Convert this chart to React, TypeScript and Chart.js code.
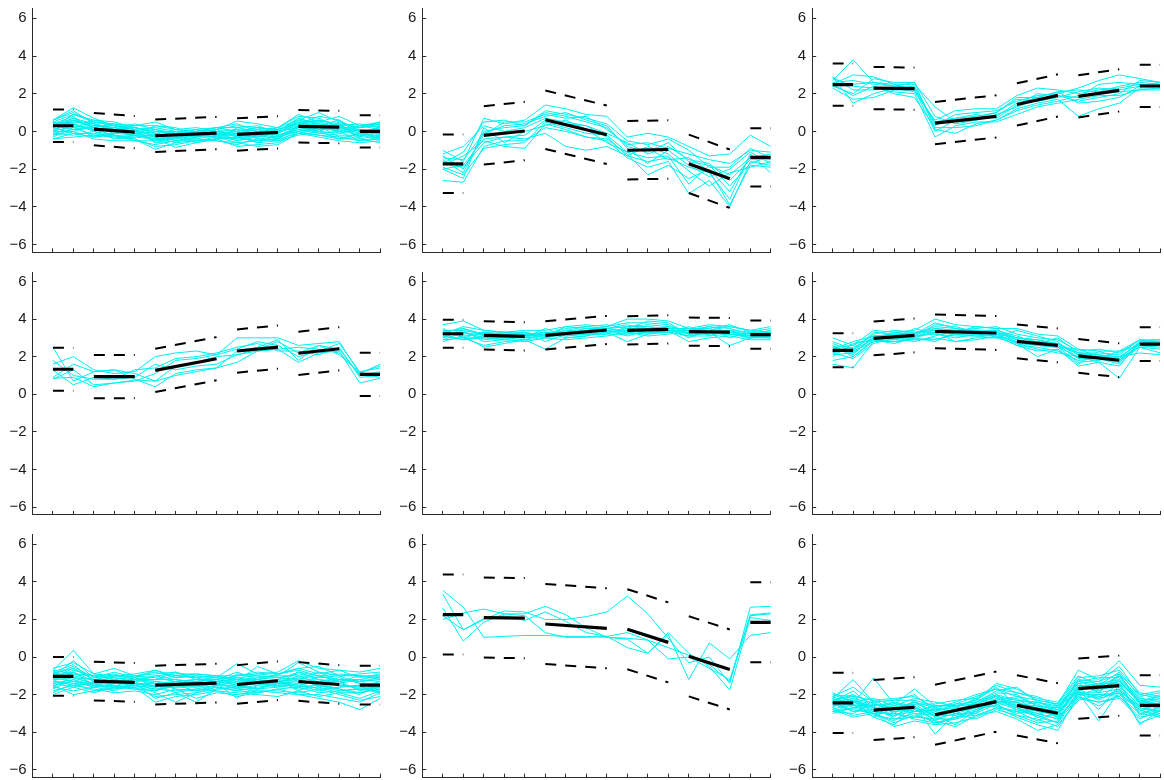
import React, { useEffect, useRef } from 'react';
import { Chart, registerables } from 'chart.js';

Chart.register(...registerables);

// ---------- shared axes ----------
const xTicks = [1, 2, 3, 4, 5, 6, 7, 8, 9, 10, 11, 12, 13, 14, 15, 16, 17];
const yTicks = [-6, -4, -2, 0, 2, 4, 6];
const groupStarts = [1, 3, 6, 10, 13, 16];
const groupEnds = [2, 5, 9, 12, 15, 17];

// ---------- panel 1 ----------
const p1Mean = [0.3, 0.3, 0.12, -0.04, -0.23, -0.09, -0.16, -0.05, 0.27, 0.23, 0.0, 0.0];
const p1Band = 0.86;
const p1Lines = [
  [0.6, 1.25, 0.7, 0.3, 0.2, -0.1, 0.0, 0.1, 0.2, 0.0, 0.2, 0.1, 0.5, 0.6, 0.4, 0.2, 0.3],
  [0.5, 0.9, 0.5, 0.4, 0.3, 0.5, 0.1, 0.0, 0.1, 0.55, 0.4, 0.2, 0.9, 0.5, 0.8, 0.3, 0.5],
  [0.2, 0.6, 0.3, 0.1, -0.1, -0.3, -0.2, -0.3, -0.1, -0.2, -0.3, 0.0, 0.3, 0.1, 0.2, -0.1, 0.1],
  [-0.4, -0.3, -0.2, -0.3, -0.4, -0.95, -0.6, -0.5, -0.4, -0.8, -0.7, -0.6, -0.1, -0.3, -0.5, -0.6, -0.5],
  [0.0, 0.3, 0.1, 0.0, 0.0, -0.5, -0.4, -0.2, -0.3, -0.4, -0.2, -0.3, 0.0, 0.2, 0.1, -0.2, -0.1],
  [0.4, 0.5, 0.4, 0.2, 0.0, -0.1, -0.3, -0.2, 0.0, 0.1, 0.0, -0.1, 0.6, 1.0, 0.5, 0.2, 0.4],
  [0.3, 0.1, 0.2, -0.1, -0.2, -0.4, -0.85, -0.6, -0.4, -0.3, -0.5, -0.4, 0.2, 0.0, 0.3, 0.0, -0.3],
  [-0.2, 0.0, -0.4, -0.5, -0.5, -0.7, -0.5, -0.4, -0.5, -0.6, -0.8, -0.7, -0.1, -0.2, -0.4, -0.4, -0.6],
  [0.5, 0.2, 0.6, 0.3, 0.1, 0.2, 0.0, -0.1, 0.1, 0.3, 0.2, 0.1, 0.4, 0.6, 0.3, 0.4, 0.2],
  [0.1, 0.4, 0.0, -0.2, -0.3, -0.2, -0.1, 0.1, -0.2, -0.1, 0.1, -0.2, 0.2, 0.4, -0.1, 0.1, 0.0],
  [0.35, 0.7, 0.4, 0.1, 0.2, 0.0, -0.2, -0.3, -0.1, -0.5, -0.3, 0.0, 0.7, 0.3, 0.6, -0.2, 0.2],
  [-0.1, 0.1, 0.2, 0.0, -0.2, -0.4, -0.3, -0.1, -0.2, 0.0, -0.4, -0.3, 0.1, -0.1, 0.0, 0.1, -0.2],
  [0.2, -0.1, -0.1, -0.3, -0.2, 0.3, 0.2, -0.2, 0.0, -0.3, 0.0, 0.1, 0.5, 0.3, -0.3, -0.3, 0.3],
  [0.6, 1.0, 0.5, 0.3, 0.1, -0.6, -0.3, 0.0, 0.2, 0.2, 0.3, -0.1, 0.4, 0.0, 0.5, 0.0, 0.1],
  [0.0, 0.6, 0.3, 0.2, 0.4, 0.1, -0.1, -0.3, 0.0, -0.2, -0.1, 0.2, 0.8, 0.7, 0.2, 0.2, 0.4],
  [0.4, 0.8, 0.0, 0.2, -0.1, -0.3, 0.0, -0.1, -0.3, 0.1, -0.2, -0.4, -0.1, 0.2, 0.0, -0.5, -0.4],
  [0.1, 0.5, 0.5, 0.3, 0.0, -0.2, -0.4, -0.2, -0.1, -0.4, -0.1, 0.0, 0.2, 0.5, 0.1, 0.3, 0.1],
  [-0.3, 0.2, -0.2, -0.1, 0.1, -0.6, -0.5, -0.5, -0.3, -0.6, -0.5, -0.4, 0.3, -0.1, -0.2, -0.2, -0.4],
  [0.45, 0.4, 0.1, 0.1, 0.3, 0.3, 0.1, 0.2, 0.0, -0.1, 0.1, 0.2, 0.6, 0.4, 0.0, 0.3, 0.4],
  [0.2, 0.9, 0.6, 0.5, 0.2, -0.1, -0.3, -0.4, -0.2, -0.2, -0.6, -0.5, 0.0, 0.3, 0.4, -0.3, 0.0],
  [-0.1, -0.2, 0.0, -0.4, -0.3, -0.4, -0.2, 0.0, -0.4, 0.2, 0.0, -0.2, 0.1, 0.0, -0.4, -0.1, -0.3],
  [0.3, 0.6, 0.2, 0.0, 0.0, -0.2, -0.5, -0.3, 0.1, -0.3, -0.1, 0.1, 0.4, 0.8, 0.6, 0.0, 0.2],
  [0.6, 1.1, 0.4, 0.1, -0.1, -0.5, -0.2, 0.0, -0.1, 0.0, 0.2, 0.0, 0.2, 0.1, 0.3, -0.4, -0.2],
  [-0.2, 0.4, 0.1, -0.2, -0.4, -0.8, -0.7, -0.5, -0.5, -0.7, -0.4, -0.5, -0.2, 0.0, -0.1, 0.1, -0.1],
  [0.0, 0.0, 0.3, 0.3, 0.2, 0.0, 0.0, -0.2, -0.3, -0.1, -0.3, -0.1, 0.5, 0.2, 0.4, -0.3, 0.3],
  [0.5, 0.3, -0.3, -0.1, 0.0, 0.1, -0.1, 0.0, 0.2, 0.4, 0.0, -0.3, 0.3, 0.6, 0.0, 0.2, 0.5],
  [0.2, 0.7, 0.2, 0.4, 0.1, -0.3, -0.6, -0.1, -0.2, -0.5, -0.2, 0.0, 0.7, 0.4, 0.2, 0.0, -0.5],
  [-0.4, -0.1, -0.3, -0.2, -0.5, -0.5, -0.3, -0.6, -0.4, -0.3, -0.6, -0.2, 0.0, -0.2, -0.3, -0.5, -0.3],
];

// ---------- panel 2 ----------
const p2Mean = [-1.72, -1.72, -0.21, 0.02, 0.62, -0.18, -1.0, -0.96, -1.72, -2.51, -1.38, -1.38];
const p2Band = 1.55;
const p2Lines = [
  [-1.0, -1.6, 0.7, 0.4, 0.6, 1.4, 1.2, 0.9, 0.8, -0.3, -0.1, -0.3, -0.8, -1.3, -1.2, -0.2, -0.8],
  [-1.3, -2.0, -0.2, 0.5, 0.5, 0.9, 0.7, 0.8, 0.1, -0.7, -0.6, -0.9, -1.2, -1.5, -1.7, -1.0, -1.1],
  [-2.6, -2.7, -0.8, -0.5, -0.5, 0.2, 0.0, -0.3, -0.5, -1.4, -1.9, -1.6, -3.3, -2.6, -4.0, -1.6, -1.8],
  [-1.8, -1.3, -0.5, -0.8, -0.9, 0.4, 0.1, -0.3, -0.4, -1.2, -2.3, -1.8, -2.5, -2.0, -3.2, -1.3, -1.5],
  [-1.5, -2.2, 0.0, 0.2, 0.3, 1.0, 0.8, 0.5, 0.2, -0.8, -1.1, -0.6, -1.6, -1.8, -2.3, -1.4, -1.2],
  [-2.0, -1.8, -0.4, -0.3, -0.2, 0.6, 0.4, 0.3, -0.3, -1.3, -0.8, -1.2, -2.1, -2.9, -2.2, -1.9, -1.6],
  [-1.2, -0.8, 0.3, 0.0, 0.2, 0.7, 0.5, 0.3, -0.1, -0.6, -1.2, -0.8, -1.5, -1.7, -2.6, -1.5, -1.5],
  [-1.6, -1.9, -0.6, -0.3, -0.4, -0.1, -0.8, -1.0, -0.8, -1.3, -1.6, -1.4, -1.9, -2.2, -3.6, -1.2, -2.2],
  [-2.0, -2.5, 0.2, -0.6, 0.0, 0.3, 0.6, 0.1, -0.6, -1.1, -1.4, -1.3, -2.8, -1.8, -2.9, -1.7, -1.3],
  [-1.4, -1.5, -0.1, 0.3, 0.4, 0.8, 1.0, 0.6, 0.3, -0.9, -1.7, -1.0, -1.8, -2.4, -2.0, -1.1, -1.7],
  [-1.9, -2.3, -0.9, -0.7, -0.6, 0.5, 0.2, -0.1, -0.2, -1.1, -0.9, -1.5, -1.4, -2.1, -3.9, -1.8, -1.9],
  [-1.7, -1.1, 0.5, 0.6, 0.3, 1.1, 0.9, 0.7, 0.4, -0.5, -0.7, -0.4, -1.0, -1.9, -1.9, -0.9, -1.4],
];

// ---------- panel 3 ----------
const p3Mean = [2.48, 2.48, 2.3, 2.27, 0.44, 0.8, 1.43, 1.91, 1.86, 2.18, 2.41, 2.41];
const p3Band = 1.12;
const p3Lines = [
  [2.7, 3.8, 2.6, 2.4, 2.3, 0.3, 0.9, 1.0, 1.1, 1.6, 1.9, 2.0, 2.3, 2.7, 3.0, 2.8, 2.6],
  [2.9, 1.5, 2.0, 2.3, 2.1, 0.6, 1.1, 1.2, 1.2, 1.9, 2.3, 2.2, 2.0, 2.2, 2.3, 2.5, 2.4],
  [2.4, 2.0, 2.8, 2.6, 2.6, 0.1, -0.1, 0.4, 0.6, 1.2, 1.5, 1.7, 0.8, 1.2, 1.5, 2.3, 2.3],
  [2.5, 3.0, 2.9, 2.5, 2.5, 1.3, 0.5, 0.6, 0.8, 1.5, 1.8, 2.1, 2.2, 2.1, 2.4, 2.6, 2.5],
  [2.8, 2.4, 2.3, 2.1, 2.0, -0.3, 0.3, 0.5, 0.5, 0.9, 1.3, 1.5, 1.7, 1.9, 1.9, 2.2, 2.2],
  [2.3, 1.7, 1.8, 2.2, 2.2, 0.5, 0.7, 0.8, 1.0, 1.7, 1.6, 1.8, 2.1, 2.3, 2.2, 2.4, 2.5],
  [2.6, 2.7, 2.5, 2.4, 2.6, 0.8, 0.4, 0.6, 0.9, 1.3, 1.7, 1.9, 1.6, 1.8, 2.0, 2.7, 2.6],
  [2.5, 1.9, 2.4, 2.0, 1.8, 0.2, 0.2, 0.3, 0.6, 1.1, 1.4, 1.6, 1.9, 2.0, 2.1, 2.2, 2.3],
  [2.9, 2.2, 2.2, 2.3, 2.4, 0.4, 0.7, 0.9, 0.7, 1.4, 2.0, 1.9, 1.8, 2.5, 2.6, 2.5, 2.4],
  [2.4, 2.5, 2.6, 2.5, 2.2, 0.0, 0.6, 0.7, 1.0, 1.8, 1.8, 2.1, 1.5, 1.6, 1.8, 2.4, 2.6],
];

// ---------- panel 4 ----------
const p4Mean = [1.33, 1.33, 0.94, 0.94, 1.27, 1.89, 2.3, 2.51, 2.18, 2.42, 1.06, 1.06];
const p4Band = 1.15;
const p4Lines = [
  [2.5, 0.7, 1.2, 1.3, 0.8, 0.4, 1.1, 1.3, 1.4, 1.7, 2.3, 2.4, 1.7, 2.2, 2.3, 0.6, 0.85],
  [1.6, 2.0, 1.3, 1.1, 1.2, 2.0, 2.2, 2.3, 2.1, 3.0, 3.0, 3.0, 2.6, 2.7, 2.8, 1.1, 1.6],
  [0.8, 1.3, 0.5, 0.6, 0.7, 1.1, 1.8, 1.9, 2.1, 2.4, 2.8, 2.6, 2.0, 2.3, 2.7, 1.2, 1.4],
  [1.3, 0.5, 0.9, 0.8, 0.9, 1.6, 1.3, 1.5, 1.6, 2.1, 2.3, 2.4, 2.5, 2.4, 2.2, 1.1, 0.9],
  [0.9, 1.6, 1.2, 1.3, 1.1, 0.7, 1.0, 1.2, 1.4, 2.3, 2.5, 2.9, 1.8, 2.6, 2.4, 1.0, 1.2],
  [1.8, 1.0, 0.8, 0.8, 1.3, 1.4, 1.9, 2.0, 2.2, 2.5, 2.7, 2.3, 2.3, 2.1, 2.5, 0.9, 1.0],
  [0.85, 0.9, 0.4, 0.6, 0.75, 0.7, 1.5, 1.7, 2.0, 2.1, 2.4, 2.8, 2.2, 2.6, 2.1, 1.15, 1.5],
];

// ---------- panel 5 ----------
const p5Mean = [3.22, 3.22, 3.13, 3.08, 3.13, 3.42, 3.4, 3.45, 3.33, 3.31, 3.17, 3.17];
const p5Band = 0.75;
const p5Lines = [
  [3.7, 3.9, 3.4, 3.3, 3.4, 3.4, 3.6, 3.7, 3.6, 4.0, 4.0, 3.9, 3.5, 3.7, 3.6, 3.4, 3.6],
  [3.4, 3.0, 2.6, 2.8, 2.9, 2.4, 3.0, 3.1, 3.3, 2.8, 3.2, 3.3, 3.1, 3.3, 2.6, 3.0, 3.1],
  [3.0, 3.5, 3.2, 3.1, 3.2, 3.3, 3.3, 3.5, 3.5, 3.6, 3.7, 3.6, 3.4, 3.6, 3.5, 3.2, 3.3],
  [2.8, 3.1, 2.5, 2.7, 2.9, 3.0, 3.2, 3.3, 3.4, 3.2, 3.3, 3.4, 2.8, 3.0, 3.1, 2.9, 2.9],
  [3.3, 3.2, 3.3, 3.2, 3.1, 3.2, 3.5, 3.6, 3.7, 3.5, 3.5, 3.5, 3.5, 3.5, 3.7, 3.3, 3.2],
  [3.1, 2.9, 3.0, 2.9, 2.8, 3.0, 2.9, 3.0, 3.1, 3.3, 3.1, 3.2, 3.3, 3.2, 3.4, 3.1, 3.0],
  [3.2, 3.6, 3.4, 3.3, 3.3, 3.1, 3.4, 3.4, 3.6, 3.8, 3.8, 3.7, 3.2, 3.4, 3.3, 3.2, 3.4],
  [2.9, 3.3, 2.9, 3.0, 3.0, 3.5, 3.1, 3.2, 3.3, 3.4, 3.3, 3.3, 3.6, 3.1, 3.2, 3.0, 3.1],
  [3.5, 3.0, 3.3, 3.2, 3.3, 2.8, 3.2, 3.3, 3.4, 3.1, 3.4, 3.6, 3.0, 3.4, 3.6, 3.4, 3.3],
  [3.2, 2.9, 3.1, 3.0, 2.9, 3.2, 3.3, 3.2, 3.2, 3.6, 3.6, 3.4, 3.3, 3.3, 3.2, 3.1, 3.2],
  [3.0, 3.4, 2.8, 2.9, 3.1, 3.3, 3.0, 3.1, 3.5, 3.3, 3.2, 3.4, 3.4, 3.5, 3.0, 3.3, 3.5],
  [3.3, 3.1, 3.2, 3.3, 3.2, 3.1, 3.6, 3.5, 3.3, 3.5, 3.9, 3.8, 3.2, 3.2, 3.4, 3.0, 3.0],
  [3.1, 3.3, 3.0, 3.1, 3.0, 3.1, 3.2, 3.4, 3.4, 3.3, 3.5, 3.5, 3.2, 3.3, 3.2, 3.1, 3.2],
  [3.4, 3.4, 3.2, 3.1, 3.2, 3.0, 3.3, 3.3, 3.5, 3.7, 3.4, 3.3, 3.4, 3.6, 3.3, 3.2, 3.3],
  [2.9, 3.0, 3.0, 3.2, 3.0, 3.3, 3.1, 3.2, 3.2, 3.2, 3.3, 3.4, 3.1, 3.1, 3.4, 3.3, 3.1],
  [3.3, 3.5, 3.1, 3.0, 3.1, 3.2, 3.4, 3.6, 3.5, 3.4, 3.6, 3.5, 3.5, 3.4, 3.3, 3.0, 3.4],
];

// ---------- panel 6 ----------
const p6Mean = [2.34, 2.34, 2.97, 3.13, 3.35, 3.26, 2.81, 2.6, 2.04, 1.81, 2.67, 2.67];
const p6Band = 0.9;
const p6Lines = [
  [3.0, 2.6, 3.4, 3.3, 3.4, 4.0, 3.7, 3.6, 3.5, 3.5, 3.2, 3.1, 2.4, 2.3, 2.3, 2.9, 2.9],
  [1.6, 1.4, 2.8, 2.8, 2.9, 3.0, 2.8, 3.0, 3.0, 2.7, 2.0, 2.4, 1.5, 1.7, 0.85, 2.5, 2.2],
  [2.5, 2.2, 3.0, 3.2, 3.2, 3.6, 3.5, 3.4, 3.4, 3.0, 2.9, 2.7, 2.1, 2.0, 1.9, 2.8, 2.8],
  [2.0, 2.7, 2.9, 2.7, 3.0, 2.8, 3.3, 3.2, 3.1, 2.6, 2.5, 2.3, 1.8, 1.9, 1.6, 2.6, 2.7],
  [2.8, 2.4, 3.2, 3.4, 3.3, 3.5, 3.4, 3.5, 3.6, 3.2, 3.0, 2.9, 2.3, 2.4, 2.2, 2.9, 2.7],
  [2.2, 1.9, 2.7, 3.0, 3.5, 3.2, 3.0, 3.2, 3.3, 2.9, 2.6, 2.5, 1.7, 1.8, 2.0, 2.2, 2.1],
  [2.4, 2.8, 3.1, 2.9, 3.1, 3.7, 3.6, 3.3, 3.2, 2.8, 2.8, 2.6, 2.2, 2.1, 1.7, 2.7, 2.8],
  [1.8, 2.0, 2.8, 3.1, 2.9, 2.9, 3.2, 3.1, 3.0, 3.4, 3.1, 2.8, 1.9, 1.9, 2.3, 2.6, 2.5],
  [2.7, 2.3, 3.3, 3.2, 3.3, 3.4, 3.3, 3.6, 3.5, 2.7, 2.4, 2.2, 2.0, 1.7, 1.5, 2.8, 2.9],
  [2.3, 2.5, 3.0, 3.3, 3.2, 3.8, 3.5, 3.3, 3.4, 3.1, 2.7, 3.0, 2.2, 2.2, 2.1, 2.9, 2.6],
  [2.6, 2.0, 2.9, 2.8, 3.0, 3.3, 2.8, 2.9, 3.1, 2.6, 2.3, 2.4, 1.6, 2.3, 1.9, 2.5, 2.4],
  [2.1, 2.2, 3.0, 3.0, 2.8, 3.1, 3.4, 3.4, 3.2, 3.0, 2.9, 2.5, 2.4, 2.0, 1.8, 2.7, 2.8],
  [2.5, 2.6, 3.1, 3.1, 3.2, 3.4, 3.3, 3.3, 3.3, 2.9, 2.7, 2.7, 2.1, 2.1, 2.0, 2.7, 2.7],
  [2.2, 2.4, 2.9, 3.0, 3.1, 3.3, 3.2, 3.2, 3.1, 2.8, 2.6, 2.6, 1.9, 1.9, 1.7, 2.6, 2.6],
  [2.6, 2.1, 3.1, 3.2, 3.0, 3.5, 3.4, 3.3, 3.3, 3.0, 2.8, 2.7, 2.2, 2.1, 1.9, 2.8, 2.7],
  [2.3, 2.3, 2.8, 2.9, 3.1, 3.2, 3.1, 3.1, 3.2, 2.7, 2.6, 2.5, 2.0, 2.0, 1.8, 2.5, 2.6],
];

// ---------- panel 7 ----------
const p7Mean = [-1.03, -1.03, -1.28, -1.35, -1.49, -1.39, -1.46, -1.26, -1.3, -1.46, -1.49, -1.49];
const p7Band = 1.03;
const p7Lines = [
  [-0.7, 0.35, -0.9, -0.6, -1.0, -0.8, -1.1, -1.0, -1.1, -0.35, -0.9, -0.8, -0.2, -0.6, -0.7, -0.8, -0.6],
  [-1.0, -0.2, -1.1, -0.8, -1.1, -1.2, -0.8, -1.1, -1.0, -1.3, -0.5, -0.9, -0.6, -0.5, -1.0, -1.0, -1.0],
  [-1.5, -2.0, -1.8, -1.7, -1.6, -2.4, -2.1, -2.0, -1.8, -2.1, -1.9, -1.7, -2.0, -2.2, -2.4, -2.8, -2.2],
  [-0.9, -0.6, -1.2, -1.3, -1.2, -1.4, -1.3, -1.2, -1.3, -1.2, -1.1, -1.0, -1.0, -1.2, -1.3, -1.2, -1.3],
  [-1.3, -1.4, -1.5, -1.6, -1.5, -1.9, -2.4, -1.9, -1.6, -1.8, -1.6, -1.5, -1.7, -1.6, -1.9, -2.2, -1.8],
  [-1.1, -0.9, -1.0, -1.1, -1.3, -1.0, -1.2, -1.4, -1.5, -0.9, -1.0, -1.1, -0.9, -1.1, -1.0, -1.4, -1.5],
  [-1.7, -1.2, -1.6, -1.8, -1.4, -2.2, -1.9, -2.4, -1.7, -1.6, -1.7, -1.4, -1.6, -1.5, -1.8, -1.7, -1.9],
  [-0.8, -0.4, -1.3, -1.2, -1.4, -1.6, -1.5, -1.3, -1.2, -1.4, -1.3, -1.2, -1.3, -1.4, -1.2, -1.3, -1.1],
  [-1.2, -1.1, -1.4, -1.4, -1.5, -1.3, -1.4, -1.6, -1.4, -2.2, -1.5, -1.3, -1.5, -1.8, -1.6, -1.5, -1.6],
  [-2.0, -1.6, -1.9, -1.6, -1.7, -1.7, -1.8, -1.7, -1.8, -1.9, -2.0, -2.1, -1.8, -2.1, -1.9, -1.9, -1.7],
  [-0.9, -0.5, -1.1, -1.0, -0.9, -0.7, -1.0, -0.9, -1.0, -1.0, -0.8, -0.9, -0.6, -0.9, -0.7, -1.1, -0.9],
  [-1.4, -1.6, -1.3, -1.5, -1.6, -1.5, -1.6, -1.5, -1.6, -1.6, -1.4, -1.6, -1.2, -1.5, -1.7, -2.0, -1.4],
  [-1.1, -1.3, -1.6, -1.4, -1.3, -1.8, -1.4, -1.3, -1.2, -1.5, -1.2, -1.3, -1.4, -1.3, -1.4, -1.7, -1.6],
  [-1.6, -1.0, -1.2, -1.3, -1.2, -1.2, -1.0, -1.1, -1.4, -1.1, -1.3, -1.5, -1.1, -1.6, -1.2, -1.2, -2.0],
  [-1.3, -0.8, -1.5, -1.2, -1.4, -1.4, -1.7, -1.8, -1.5, -1.3, -1.2, -1.4, -0.8, -1.2, -1.5, -1.6, -1.3],
  [-0.8, -1.1, -1.4, -1.6, -1.1, -1.6, -1.3, -1.5, -1.3, -1.5, -1.7, -1.3, -1.6, -1.0, -1.3, -1.8, -1.5],
  [-1.2, -0.7, -1.0, -1.2, -1.0, -1.1, -1.3, -1.2, -1.1, -1.4, -1.1, -1.2, -0.8, -1.0, -1.2, -1.3, -1.2],
  [-1.5, -1.3, -1.4, -1.3, -1.5, -1.7, -1.6, -1.6, -1.4, -1.7, -1.5, -1.4, -1.5, -1.3, -1.5, -1.6, -1.7],
  [-0.6, -0.3, -0.9, -1.0, -1.0, -0.9, -0.8, -1.2, -1.2, -1.0, -0.9, -1.0, -0.3, -0.8, -1.0, -0.9, -0.8],
  [-1.8, -1.5, -1.7, -1.9, -1.8, -2.0, -1.7, -2.2, -1.9, -2.0, -1.8, -1.8, -1.9, -1.7, -2.0, -2.3, -2.1],
  [-1.0, -0.8, -1.3, -1.1, -1.2, -1.3, -1.5, -1.4, -1.3, -1.2, -1.4, -1.3, -1.1, -1.3, -1.1, -1.4, -1.4],
  [-1.4, -1.2, -1.5, -1.7, -1.4, -1.5, -1.9, -1.7, -1.5, -1.5, -1.7, -1.6, -1.4, -1.7, -1.6, -1.5, -1.6],
  [-0.9, -1.1, -1.2, -1.0, -1.1, -0.7, -1.1, -1.0, -1.1, -1.1, -1.0, -1.1, -1.2, -0.8, -1.3, -1.0, -1.1],
  [-1.6, -1.8, -1.6, -1.5, -1.7, -1.8, -1.5, -1.8, -1.6, -1.8, -1.9, -1.7, -1.6, -1.9, -1.8, -1.7, -1.8],
  [-1.1, -0.6, -1.2, -1.4, -1.3, -1.2, -1.2, -1.3, -1.2, -0.8, -1.2, -1.4, -1.0, -1.4, -1.4, -1.2, -1.0],
  [-1.3, -1.5, -1.4, -1.2, -1.4, -1.6, -1.3, -1.4, -1.4, -1.6, -1.3, -1.2, -1.8, -1.4, -1.7, -1.9, -1.6],
  [-0.7, -0.9, -1.0, -0.9, -1.2, -1.0, -0.9, -0.9, -1.0, -1.2, -1.2, -0.9, -0.7, -1.0, -0.9, -1.0, -1.2],
  [-1.9, -1.4, -1.8, -1.6, -1.6, -2.1, -2.0, -1.9, -1.7, -1.7, -1.8, -1.9, -2.0, -2.0, -2.2, -2.4, -1.9],
];

// ---------- panel 8 ----------
const p8Mean = [2.26, 2.26, 2.1, 2.07, 1.76, 1.53, 1.48, 0.78, 0.04, -0.66, 1.85, 1.85];
const p8Band = 2.13;
const p8Lines = [
  [3.55, 2.65, 1.05, 1.1, 1.15, 1.15, 1.1, 1.1, 1.05, 1.0, 0.9, 0.5, 0.1, -0.4, -1.3, 2.25, 2.35],
  [3.35, 1.45, 2.0, 2.45, 2.4, 2.0, 2.0, 2.15, 2.4, 3.25, 2.3, 1.0, -0.3, 0.0, -1.4, 2.65, 2.7],
  [2.6, 0.85, 1.85, 2.3, 2.3, 2.7, 2.25, 1.55, 1.05, 0.95, 0.2, 1.3, 0.2, -0.5, -1.75, 2.1, 1.95],
  [2.0, 2.35, 2.55, 2.3, 2.2, 1.3, 1.05, 1.05, 1.1, 0.5, 0.2, 1.2, -1.2, 0.75, -0.1, 1.15, 1.3],
  [2.2, 1.45, 2.05, 2.2, 1.95, 2.4, 1.9, 1.3, 1.1, 1.3, 0.9, -0.1, 0.0, -0.6, -1.2, 2.2, 2.3],
];

// ---------- panel 9 ----------
const p9Mean = [-2.44, -2.44, -2.82, -2.67, -3.07, -2.37, -2.57, -2.99, -1.68, -1.52, -2.57, -2.57];
const p9Band = 1.6;
const p9Lines = [
  [-2.2, -1.2, -2.4, -3.0, -2.3, -2.6, -2.6, -2.3, -1.4, -1.7, -2.3, -2.5, -0.7, -1.2, -0.2, -1.5, -1.6],
  [-2.8, -3.2, -3.0, -3.7, -3.4, -3.6, -3.5, -3.2, -2.7, -3.2, -3.6, -3.9, -2.0, -2.2, -1.9, -3.5, -3.1],
  [-2.4, -2.5, -1.1, -2.5, -2.6, -4.1, -3.0, -2.7, -2.2, -2.4, -2.7, -3.1, -1.6, -1.5, -1.3, -2.4, -2.5],
  [-2.6, -2.2, -2.9, -3.1, -2.7, -3.0, -2.8, -2.5, -2.0, -2.8, -3.0, -3.3, -1.9, -3.4, -1.8, -2.7, -2.9],
  [-1.9, -2.4, -2.6, -2.5, -1.7, -2.6, -2.5, -2.4, -1.8, -1.6, -2.4, -2.6, -1.4, -1.3, -0.5, -2.0, -1.8],
  [-3.0, -2.7, -3.0, -3.5, -3.1, -3.4, -3.7, -3.1, -2.9, -3.3, -3.9, -3.6, -2.3, -2.0, -2.1, -3.2, -3.0],
  [-2.3, -2.1, -2.7, -2.8, -2.5, -3.2, -2.7, -2.2, -2.5, -2.5, -2.6, -2.8, -1.5, -1.8, -1.2, -2.3, -2.6],
  [-2.5, -2.9, -2.8, -2.6, -2.9, -2.8, -3.1, -2.8, -2.4, -2.2, -2.9, -3.0, -1.7, -1.6, -1.5, -2.9, -2.4],
  [-2.7, -2.0, -3.1, -3.3, -3.0, -3.5, -3.3, -3.0, -2.0, -2.7, -3.2, -3.5, -1.8, -2.3, -1.7, -3.6, -2.8],
  [-2.1, -2.6, -2.3, -2.2, -2.1, -2.7, -2.4, -2.0, -1.7, -2.1, -2.3, -2.5, -1.1, -1.0, -0.7, -1.9, -2.1],
  [-2.9, -3.0, -2.5, -2.9, -2.8, -3.3, -3.3, -2.6, -2.6, -3.0, -2.8, -3.2, -2.1, -2.6, -2.0, -2.8, -3.2],
  [-2.4, -1.8, -2.7, -3.2, -2.4, -2.9, -2.6, -2.5, -2.1, -2.3, -2.5, -2.9, -1.2, -1.9, -0.9, -2.5, -2.2],
  [-2.6, -2.3, -3.2, -2.7, -3.0, -3.1, -2.9, -2.7, -2.6, -2.9, -3.4, -2.9, -2.0, -1.7, -1.6, -3.0, -2.7],
  [-2.0, -2.4, -2.2, -2.6, -2.2, -2.4, -2.6, -2.3, -1.6, -2.6, -2.4, -2.7, -1.3, -1.1, -1.1, -2.2, -2.3],
  [-2.5, -2.8, -3.0, -3.4, -2.6, -3.6, -3.2, -2.9, -2.4, -2.8, -3.1, -2.6, -1.9, -2.1, -1.8, -2.6, -2.9],
  [-2.2, -2.6, -2.6, -2.4, -2.9, -2.8, -2.7, -2.6, -2.3, -2.1, -2.6, -3.0, -1.6, -1.4, -1.4, -2.4, -2.0],
  [-2.3, -2.0, -2.5, -2.7, -2.4, -2.7, -2.9, -2.4, -1.9, -2.0, -2.6, -2.7, -1.4, -1.9, -1.0, -2.2, -2.4],
  [-2.7, -3.1, -2.9, -3.0, -3.2, -3.3, -3.0, -3.3, -2.8, -3.1, -3.3, -3.7, -2.2, -2.4, -2.2, -3.3, -2.8],
  [-2.1, -1.6, -2.4, -2.3, -2.0, -2.9, -2.5, -2.1, -1.7, -1.9, -2.2, -2.4, -1.0, -1.5, -0.8, -2.1, -1.9],
  [-2.6, -2.5, -3.2, -3.6, -2.8, -3.1, -3.6, -2.8, -2.3, -2.7, -3.0, -3.3, -2.0, -2.0, -1.9, -2.8, -3.1],
  [-2.4, -2.2, -2.8, -2.4, -2.6, -3.4, -2.8, -2.6, -2.4, -2.4, -2.9, -3.1, -1.6, -1.4, -1.2, -2.5, -2.5],
  [-2.9, -2.7, -2.6, -3.3, -3.2, -2.7, -3.0, -3.0, -2.5, -3.1, -3.5, -3.4, -1.9, -1.9, -1.7, -2.7, -3.0],
  [-2.0, -2.1, -2.3, -2.8, -2.5, -2.5, -2.3, -2.2, -1.5, -1.9, -2.1, -2.6, -1.2, -1.3, -0.9, -2.0, -2.2],
  [-2.8, -2.4, -2.7, -2.9, -2.7, -3.1, -3.1, -2.9, -2.2, -2.6, -2.7, -2.9, -1.8, -2.8, -1.5, -2.6, -2.7],
  [-2.3, -2.9, -2.5, -2.8, -2.4, -3.0, -2.8, -2.7, -2.4, -2.4, -3.2, -3.0, -1.5, -1.7, -1.3, -2.3, -2.5],
  [-2.5, -2.3, -2.9, -3.1, -2.9, -2.6, -2.6, -2.5, -2.1, -2.9, -2.7, -3.2, -1.7, -2.2, -1.4, -3.1, -2.6],
  [-2.2, -2.7, -2.4, -2.3, -2.3, -3.2, -2.9, -2.4, -2.0, -2.3, -2.4, -2.8, -1.3, -1.6, -1.0, -2.4, -2.1],
  [-2.9, -2.5, -3.0, -3.0, -3.3, -3.5, -3.2, -3.1, -2.7, -2.9, -3.1, -3.5, -2.1, -2.4, -2.1, -3.0, -3.2],
];

const panels = [
  { mean: p1Mean, band: p1Band, lines: p1Lines },
  { mean: p2Mean, band: p2Band, lines: p2Lines },
  { mean: p3Mean, band: p3Band, lines: p3Lines },
  { mean: p4Mean, band: p4Band, lines: p4Lines },
  { mean: p5Mean, band: p5Band, lines: p5Lines },
  { mean: p6Mean, band: p6Band, lines: p6Lines },
  { mean: p7Mean, band: p7Band, lines: p7Lines },
  { mean: p8Mean, band: p8Band, lines: p8Lines },
  { mean: p9Mean, band: p9Band, lines: p9Lines },
];

// ---------- layout (plot-area edges in page pixels) ----------
const COL_L = [32.5, 422.3, 812.2];
const COL_R = [380.2, 770.8, 1160.2];
const ROW_T = [8.9, 272.1, 534.9];
const ROW_B = [252.4, 514.9, 777.7];
const Y_MIN = -6.42;
const Y_MAX = 6.5;
const X_MIN = 0;
const X_MAX = 17;
const AXIS_W = 32;

const CYAN = '#00efef';
const AXIS_COLOR = '#2b2b2b';
const TEXT_COLOR = '#1a1a1a';

const fmt = (v: number) => (v < 0 ? '\u2212' + Math.abs(v) : String(v));

function buildDatasets(p: { mean: number[]; band: number; lines: number[][] }) {
  const base = {
    pointRadius: 0,
    pointHoverRadius: 0,
    fill: false,
    tension: 0,
    borderCapStyle: 'butt' as const,
    borderJoinStyle: 'miter' as const,
  };
  const ds: any[] = [];
  groupStarts.forEach((s, g) => {
    const e = groupEnds[g];
    const m0 = p.mean[2 * g];
    const m1 = p.mean[2 * g + 1];
    ds.push({ ...base, order: 0, data: [{ x: s, y: m0 }, { x: e, y: m1 }], borderColor: '#000', borderWidth: 3.2 });
    ds.push({ ...base, order: 1, data: [{ x: s, y: m0 + p.band }, { x: e, y: m1 + p.band }], borderColor: '#000', borderWidth: 2, borderDash: [11, 9] });
    ds.push({ ...base, order: 1, data: [{ x: s, y: m0 - p.band }, { x: e, y: m1 - p.band }], borderColor: '#000', borderWidth: 2, borderDash: [11, 9] });
  });
  p.lines.forEach((l) => {
    ds.push({ ...base, order: 2, data: l.map((y, i) => ({ x: xTicks[i], y })), borderColor: CYAN, borderWidth: 1 });
  });
  return ds;
}

function Panel({ idx }: { idx: number }) {
  const ref = useRef<HTMLCanvasElement | null>(null);
  const r = Math.floor(idx / 3);
  const c = idx % 3;
  const L = COL_L[c], R = COL_R[c], T = ROW_T[r], B = ROW_B[r];
  const cx = Math.floor(L) - AXIS_W;
  const cy = Math.floor(T) - 8;
  const W = Math.ceil(R) + 6 - cx;
  const H = Math.ceil(B) + 2 - cy;
  const padLeft = L - cx - AXIS_W;
  const padTop = T - cy;
  const padRight = W - (R - cx);
  const padBottom = H - (B - cy);

  useEffect(() => {
    if (!ref.current) return;
    const grid = {
      display: true,
      drawOnChartArea: false,
      drawTicks: true,
      tickLength: -4,
      color: AXIS_COLOR,
      lineWidth: 1,
    };
    const border = { display: true, color: AXIS_COLOR, width: 1 };
    const chart = new Chart(ref.current, {
      type: 'line',
      data: { datasets: buildDatasets(panels[idx]) },
      options: {
        animation: false,
        responsive: false,
        devicePixelRatio: 1,
        events: [],
        layout: { padding: { left: padLeft, top: padTop, right: padRight, bottom: padBottom } },
        plugins: { legend: { display: false }, tooltip: { enabled: false }, title: { display: false } },
        scales: {
          x: {
            type: 'linear',
            position: 'bottom',
            min: X_MIN,
            max: X_MAX,
            afterBuildTicks: (s: any) => {
              s.ticks = xTicks.map((v) => ({ value: v }));
            },
            afterFit: (s: any) => {
              s.height = 0;
              s.paddingLeft = 0;
              s.paddingRight = 0;
            },
            ticks: { display: false },
            grid,
            border,
          },
          y: {
            type: 'linear',
            position: 'left',
            min: Y_MIN,
            max: Y_MAX,
            afterBuildTicks: (s: any) => {
              s.ticks = yTicks.map((v) => ({ value: v }));
            },
            afterFit: (s: any) => {
              s.width = AXIS_W;
              s.paddingTop = 0;
              s.paddingBottom = 0;
            },
            ticks: {
              autoSkip: false,
              padding: 10,
              color: TEXT_COLOR,
              font: { family: '"Liberation Sans", Arial, sans-serif', size: 15 },
              callback: (v: any) => fmt(Number(v)),
            },
            grid,
            border,
          },
        },
      } as any,
    });
    return () => chart.destroy();
  }, [idx]);

  return (
    <canvas
      ref={ref}
      width={W}
      height={H}
      style={{ position: 'absolute', left: cx, top: cy, width: W, height: H }}
    />
  );
}

export default function App() {
  return (
    <div
      style={{
        position: 'fixed',
        left: 0,
        top: 0,
        width: 1164,
        height: 780,
        background: '#ffffff',
        overflow: 'hidden',
      }}
    >
      {panels.map((_, i) => (
        <Panel key={i} idx={i} />
      ))}
    </div>
  );
}
